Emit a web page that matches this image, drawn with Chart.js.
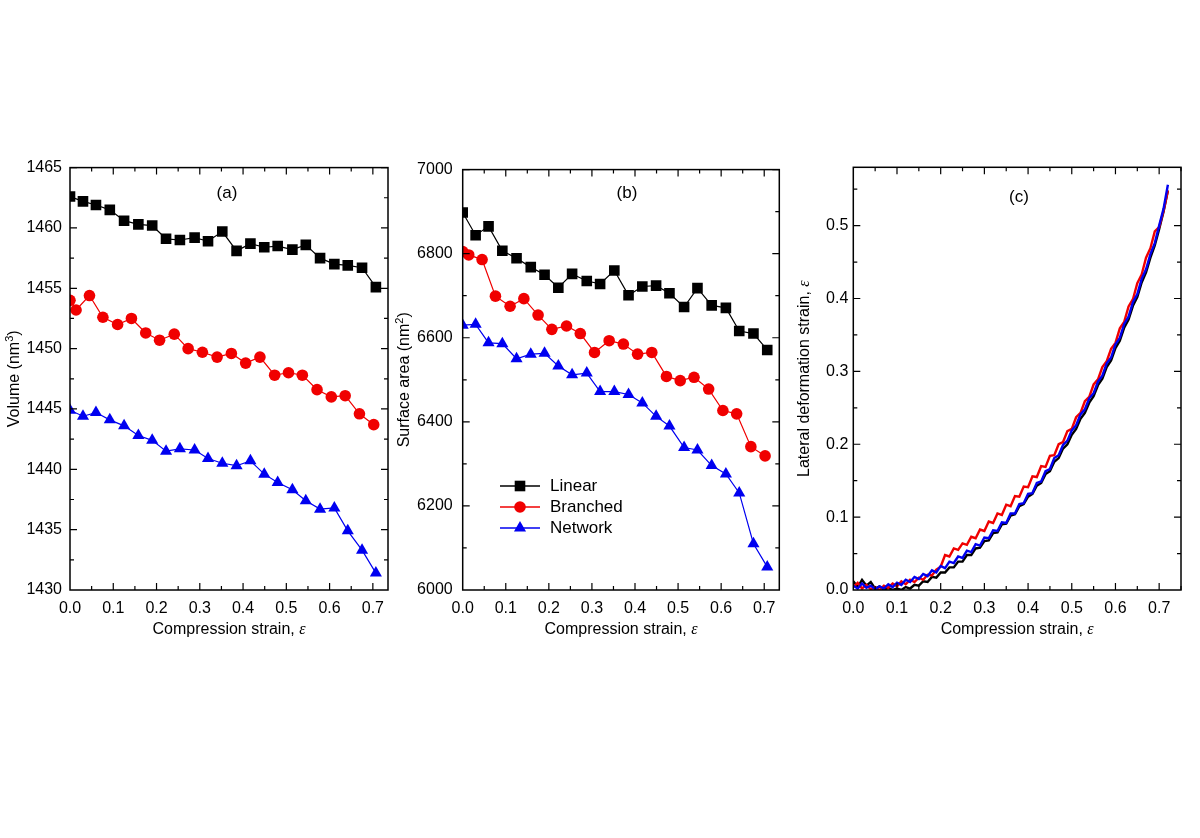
<!DOCTYPE html>
<html>
<head>
<meta charset="utf-8">
<script src="https://cdn.jsdelivr.net/npm/chart.js@4.4.0/dist/chart.umd.min.js"></script>
<style>
  body { margin: 0; background: #fff; width: 1200px; height: 838px; position: relative; overflow: hidden; }
  canvas { position: absolute; }
</style>
</head>
<body>
<canvas id="volumeChart" width="400" height="500" style="left:0;top:150px"></canvas>
<canvas id="areaChart" width="400" height="500" style="left:390px;top:150px"></canvas>
<canvas id="lateralChart" width="410" height="500" style="left:790px;top:150px"></canvas>
<script>
// ---- data ----
var seriesNames = ['Linear', 'Branched', 'Network'];

// compression strain of each sampled state (Linear / Network share one, Branched is shifted)
var strainLinNet = [0, 0.030, 0.060, 0.092, 0.125, 0.158, 0.190, 0.222, 0.254, 0.288, 0.319, 0.352,
                    0.385, 0.417, 0.449, 0.480, 0.514, 0.545, 0.578, 0.611, 0.642, 0.675, 0.707];
var strainBranched = [0, 0.014, 0.045, 0.076, 0.110, 0.142, 0.175, 0.207, 0.241, 0.273, 0.306, 0.340,
                      0.373, 0.406, 0.439, 0.473, 0.505, 0.537, 0.571, 0.604, 0.636, 0.669, 0.702];

// (a) volume, nm^3
var volLinear = [1462.6, 1462.2, 1461.9, 1461.5, 1460.6, 1460.3, 1460.2, 1459.1, 1459.0, 1459.2, 1458.9, 1459.7,
                 1458.1, 1458.7, 1458.4, 1458.5, 1458.2, 1458.6, 1457.5, 1457.0, 1456.9, 1456.7, 1455.1];
var volBranched = [1454.0, 1453.2, 1454.4, 1452.6, 1452.0, 1452.5, 1451.3, 1450.7, 1451.2, 1450.0, 1449.7, 1449.3,
                   1449.6, 1448.8, 1449.3, 1447.8, 1448.0, 1447.8, 1446.6, 1446.0, 1446.1, 1444.6, 1443.7];
var volNetwork = [1444.9, 1444.4, 1444.7, 1444.1, 1443.6, 1442.8, 1442.4, 1441.5, 1441.7, 1441.6, 1440.9, 1440.5,
                  1440.3, 1440.7, 1439.6, 1438.9, 1438.3, 1437.4, 1436.7, 1436.8, 1434.9, 1433.3, 1431.4];

// (b) surface area, nm^2
var areaLinear = [6898, 6844, 6865, 6807, 6789, 6768, 6750, 6719, 6752, 6735, 6728, 6760,
                  6701, 6722, 6724, 6706, 6673, 6718, 6677, 6671, 6616, 6610, 6571];
var areaBranched = [6805, 6797, 6786, 6699, 6675, 6693, 6654, 6620, 6628, 6610, 6565, 6593,
                    6585, 6561, 6565, 6508, 6498, 6506, 6478, 6427, 6419, 6341, 6319];
var areaNetwork = [6630, 6632, 6588, 6586, 6550, 6561, 6563, 6533, 6512, 6516, 6472, 6472,
                   6465, 6445, 6413, 6390, 6339, 6333, 6296, 6276, 6231, 6110, 6055];

// (c) lateral deformation strain vs compression strain
var strainC = [0.00, 0.01, 0.02, 0.03, 0.04, 0.05, 0.06, 0.07, 0.08, 0.09,
               0.10, 0.11, 0.12, 0.13, 0.14, 0.15, 0.16, 0.17, 0.18, 0.19,
               0.20, 0.21, 0.22, 0.23, 0.24, 0.25, 0.26, 0.27, 0.28, 0.29,
               0.30, 0.31, 0.32, 0.33, 0.34, 0.35, 0.36, 0.37, 0.38, 0.39,
               0.40, 0.41, 0.42, 0.43, 0.44, 0.45, 0.46, 0.47, 0.48, 0.49,
               0.50, 0.51, 0.52, 0.53, 0.54, 0.55, 0.56, 0.57, 0.58, 0.59,
               0.60, 0.61, 0.62, 0.63, 0.64, 0.65, 0.66, 0.67, 0.68, 0.69,
               0.70, 0.71, 0.72];
var latLinear = [0.012, 0.004, 0.014, 0.006, 0.011, 0.002, 0.005, 0.000, 0.003, 0.000,
                 0.002, 0.000, 0.004, 0.002, 0.007, 0.006, 0.012, 0.011, 0.018, 0.017,
                 0.024, 0.024, 0.031, 0.031, 0.039, 0.039, 0.048, 0.048, 0.057, 0.058,
                 0.067, 0.068, 0.078, 0.079, 0.090, 0.091, 0.102, 0.104, 0.115, 0.118,
                 0.128, 0.132, 0.143, 0.147, 0.159, 0.163, 0.176, 0.181, 0.194, 0.200,
                 0.213, 0.221, 0.235, 0.243, 0.257, 0.266, 0.281, 0.290, 0.306, 0.315,
                 0.332, 0.342, 0.360, 0.371, 0.390, 0.402, 0.422, 0.436, 0.456, 0.473,
                 0.495, 0.519, 0.548];
var latBranched = [0.004, 0.010, 0.002, 0.007, 0.001, 0.004, 0.000, 0.006, 0.003, 0.009,
                   0.005, 0.012, 0.008, 0.014, 0.011, 0.017, 0.014, 0.021, 0.020, 0.028,
                   0.032, 0.048, 0.046, 0.057, 0.055, 0.064, 0.062, 0.073, 0.071, 0.083,
                   0.081, 0.094, 0.092, 0.105, 0.103, 0.117, 0.115, 0.129, 0.128, 0.142,
                   0.141, 0.156, 0.155, 0.170, 0.169, 0.184, 0.185, 0.200, 0.203, 0.218,
                   0.221, 0.237, 0.243, 0.259, 0.265, 0.282, 0.289, 0.306, 0.314, 0.331,
                   0.339, 0.359, 0.368, 0.389, 0.399, 0.421, 0.433, 0.456, 0.469, 0.492,
                   0.498, 0.520, 0.548];
var latNetwork = [0.006, 0.002, 0.009, 0.003, 0.006, 0.001, 0.005, 0.002, 0.008, 0.004,
                  0.010, 0.007, 0.014, 0.011, 0.018, 0.015, 0.022, 0.019, 0.027, 0.024,
                  0.033, 0.030, 0.039, 0.037, 0.046, 0.044, 0.054, 0.052, 0.063, 0.061,
                  0.072, 0.071, 0.082, 0.081, 0.093, 0.092, 0.105, 0.105, 0.118, 0.119,
                  0.132, 0.133, 0.147, 0.149, 0.163, 0.166, 0.181, 0.185, 0.199, 0.205,
                  0.219, 0.226, 0.241, 0.248, 0.263, 0.270, 0.286, 0.294, 0.311, 0.319,
                  0.337, 0.346, 0.365, 0.375, 0.395, 0.406, 0.427, 0.440, 0.461, 0.476,
                  0.500, 0.523, 0.556];

// ---- styling ----
var FONT = 'Arial, "Liberation Sans", sans-serif';
var SERIF = '"Liberation Serif", "DejaVu Serif", serif';
var BLACK = '#000000', RED = 'rgb(240,0,0)', BLUE = 'rgb(0,0,240)';

function xy(xs, ys) {
    return xs.map(function (x, i) { return { x: x, y: ys[i] }; });
}

function drawParts(ctx, parts, x, y, rot) {
    ctx.save();
    ctx.translate(x, y);
    if (rot) ctx.rotate(rot);
    ctx.textBaseline = 'middle';
    ctx.textAlign = 'left';
    ctx.fillStyle = '#000';
    var total = 0;
    parts.forEach(function (p) { ctx.font = p.font; total += ctx.measureText(p.text).width; });
    var cx = -total / 2;
    parts.forEach(function (p) {
        ctx.font = p.font;
        ctx.fillText(p.text, cx, p.rise ? -p.rise : 0);
        cx += ctx.measureText(p.text).width;
    });
    ctx.restore();
}

// box round the plot with inward ticks on all four sides
var framePlugin = {
    id: 'frame',
    afterDatasetsDraw: function (chart, args, opts) {
        var ctx = chart.ctx, a = chart.chartArea, xs = chart.scales.x, ys = chart.scales.y;
        ctx.save();
        ctx.strokeStyle = '#000';
        ctx.lineWidth = 1.5;
        ctx.strokeRect(a.left, a.top, a.right - a.left, a.bottom - a.top);
        ctx.lineWidth = 1.2;
        ctx.beginPath();
        var n = Math.floor((xs.max - xs.min) / opts.xMinor + 1e-6);
        for (var i = 1; i <= n; i++) {
            var p = xs.getPixelForValue(xs.min + i * opts.xMinor);
            var len = i % 2 === 0 ? 7 : 4;
            ctx.moveTo(p, a.bottom); ctx.lineTo(p, a.bottom - len);
            ctx.moveTo(p, a.top); ctx.lineTo(p, a.top + len);
        }
        n = Math.floor((ys.max - ys.min) / opts.yMinor + 1e-6);
        for (var j = 1; j <= n; j++) {
            var q = ys.getPixelForValue(ys.min + j * opts.yMinor);
            var l = j % 2 === 0 ? 7 : 4;
            ctx.moveTo(a.left, q); ctx.lineTo(a.left + l, q);
            ctx.moveTo(a.right, q); ctx.lineTo(a.right - l, q);
        }
        ctx.stroke();
        ctx.restore();
    }
};

// axis titles and panel letter
var textPlugin = {
    id: 'texts',
    afterDraw: function (chart, args, opts) {
        var ctx = chart.ctx, a = chart.chartArea;
        var cx = (a.left + a.right) / 2;
        drawParts(ctx, opts.xTitle, cx, 480, 0);
        drawParts(ctx, opts.yTitle, 15, (a.top + a.bottom) / 2, -Math.PI / 2);
        drawParts(ctx, [{ text: opts.panel, font: '17px ' + FONT }], opts.panelX, opts.panelY, 0);
    }
};

// legend inside panel (b)
var legendPlugin = {
    id: 'boxLegend',
    afterDraw: function (chart, args, opts) {
        if (!opts.show) return;
        var ctx = chart.ctx;
        chart.data.datasets.forEach(function (ds, i) {
            var y = opts.y + i * opts.gap, x0 = opts.x;
            ctx.save();
            ctx.strokeStyle = ds.borderColor;
            ctx.fillStyle = ds.borderColor;
            ctx.lineWidth = 1.3;
            ctx.beginPath();
            ctx.moveTo(x0, y); ctx.lineTo(x0 + 40, y);
            ctx.stroke();
            var mx = x0 + 20, r = ds.pointRadius;
            ctx.beginPath();
            if (ds.pointStyle === 'rect') {
                var s = r * Math.SQRT1_2;
                ctx.rect(mx - s, y - s, 2 * s, 2 * s);
            } else if (ds.pointStyle === 'circle') {
                ctx.arc(mx, y, r, 0, Math.PI * 2);
            } else {
                ctx.moveTo(mx, y - r);
                ctx.lineTo(mx + r * Math.cos(Math.PI / 6), y + r / 2);
                ctx.lineTo(mx - r * Math.cos(Math.PI / 6), y + r / 2);
                ctx.closePath();
            }
            ctx.fill();
            ctx.font = '17px ' + FONT;
            ctx.fillStyle = '#000';
            ctx.textBaseline = 'middle';
            ctx.fillText(ds.label, x0 + 50, y);
            ctx.restore();
        });
    }
};

function markerSet(label, xs, ys, color, style, radius) {
    return {
        label: label, data: xy(xs, ys), borderColor: color, backgroundColor: color,
        borderWidth: 1.2, pointStyle: style, pointRadius: radius, pointHoverRadius: radius,
        pointBackgroundColor: color, pointBorderColor: color, pointBorderWidth: 0, clip: 0
    };
}

function axes(xMax, yMin, yMax, yStep, yW, yPad, yFmt) {
    return {
        x: {
            type: 'linear', min: 0, max: xMax,
            afterFit: function (s) { s.height = 60; },
            grid: { display: false, drawTicks: false }, border: { display: false },
            ticks: { stepSize: 0.1, includeBounds: false, padding: 9, color: '#000', font: { family: FONT, size: 16 },
                     maxRotation: 0, autoSkip: false, callback: function (v) { return v.toFixed(1); } }
        },
        y: {
            type: 'linear', min: yMin, max: yMax,
            afterFit: function (s) { s.width = yW; },
            grid: { display: false, drawTicks: false }, border: { display: false },
            ticks: { stepSize: yStep, includeBounds: false, padding: yPad, color: '#000', font: { family: FONT, size: 16 },
                     autoSkip: false, callback: yFmt }
        }
    };
}

var xTitle = [{ text: 'Compression strain, ', font: '16px ' + FONT }, { text: 'ε', font: 'italic 16px ' + SERIF }];

// (a) Volume
var volumeChart = new Chart(document.getElementById('volumeChart'), {
    type: 'line',
    data: {
        datasets: [
            markerSet(seriesNames[0], strainLinNet, volLinear, BLACK, 'rect', 7.5),
            markerSet(seriesNames[1], strainBranched, volBranched, RED, 'circle', 5.8),
            markerSet(seriesNames[2], strainLinNet, volNetwork, BLUE, 'triangle', 7)
        ]
    },
    options: {
        responsive: false, animation: false,
        layout: { padding: { top: 17, right: 12, left: 0, bottom: 0 } },
        scales: axes(0.735, 1430, 1465, 5, 70, 8, function (v) { return v.toFixed(0); }),
        plugins: {
            legend: { display: false }, tooltip: { enabled: false },
            frame: { xMinor: 0.05, yMinor: 2.5 },
            texts: {
                xTitle: xTitle, panel: '(a)', panelX: 227, panelY: 43,
                yTitle: [{ text: 'Volume (nm', font: '16px ' + FONT }, { text: '3', font: '11px ' + FONT, rise: 5 },
                         { text: ')', font: '16px ' + FONT }]
            },
            boxLegend: { show: false }
        }
    },
    plugins: [framePlugin, textPlugin, legendPlugin]
});

// (b) Surface area
var areaChart = new Chart(document.getElementById('areaChart'), {
    type: 'line',
    data: {
        datasets: [
            markerSet(seriesNames[0], strainLinNet, areaLinear, BLACK, 'rect', 7.5),
            markerSet(seriesNames[1], strainBranched, areaBranched, RED, 'circle', 5.8),
            markerSet(seriesNames[2], strainLinNet, areaNetwork, BLUE, 'triangle', 7)
        ]
    },
    options: {
        responsive: false, animation: false,
        layout: { padding: { top: 17, right: 10.7, left: 0, bottom: 0 } },
        scales: axes(0.735, 6000, 7000, 200, 72.7, 10, function (v) { return v.toFixed(0); }),
        plugins: {
            legend: { display: false }, tooltip: { enabled: false },
            frame: { xMinor: 0.05, yMinor: 100 },
            texts: {
                xTitle: xTitle, panel: '(b)', panelX: 237, panelY: 43,
                yTitle: [{ text: 'Surface area (nm', font: '16px ' + FONT }, { text: '2', font: '11px ' + FONT, rise: 5 },
                         { text: ')', font: '16px ' + FONT }]
            },
            boxLegend: { show: true, x: 110, y: 336, gap: 21 }
        }
    },
    plugins: [framePlugin, textPlugin, legendPlugin]
});

// (c) Lateral deformation strain
var lateralChart = new Chart(document.getElementById('lateralChart'), {
    type: 'line',
    data: {
        datasets: [
            { label: seriesNames[0], data: xy(strainC, latLinear), borderColor: BLACK, borderWidth: 2.4, pointRadius: 0, clip: 0, order: 3 },
            { label: seriesNames[1], data: xy(strainC, latBranched), borderColor: RED, borderWidth: 2.4, pointRadius: 0, clip: 0, order: 2 },
            { label: seriesNames[2], data: xy(strainC, latNetwork), borderColor: BLUE, borderWidth: 2.4, pointRadius: 0, clip: 0, order: 1 }
        ]
    },
    options: {
        responsive: false, animation: false,
        layout: { padding: { top: 17.3, right: 19, left: 0, bottom: 0 } },
        scales: axes(0.75, 0, 0.58, 0.1, 63.3, 5, function (v) { return v.toFixed(1); }),
        plugins: {
            legend: { display: false }, tooltip: { enabled: false },
            frame: { xMinor: 0.05, yMinor: 0.05 },
            texts: {
                xTitle: xTitle, panel: '(c)', panelX: 229, panelY: 47,
                yTitle: [{ text: 'Lateral deformation strain, ', font: '16px ' + FONT }, { text: 'ε', font: 'italic 16px ' + SERIF }]
            },
            boxLegend: { show: false }
        }
    },
    plugins: [framePlugin, textPlugin, legendPlugin]
});
</script>
</body>
</html>
